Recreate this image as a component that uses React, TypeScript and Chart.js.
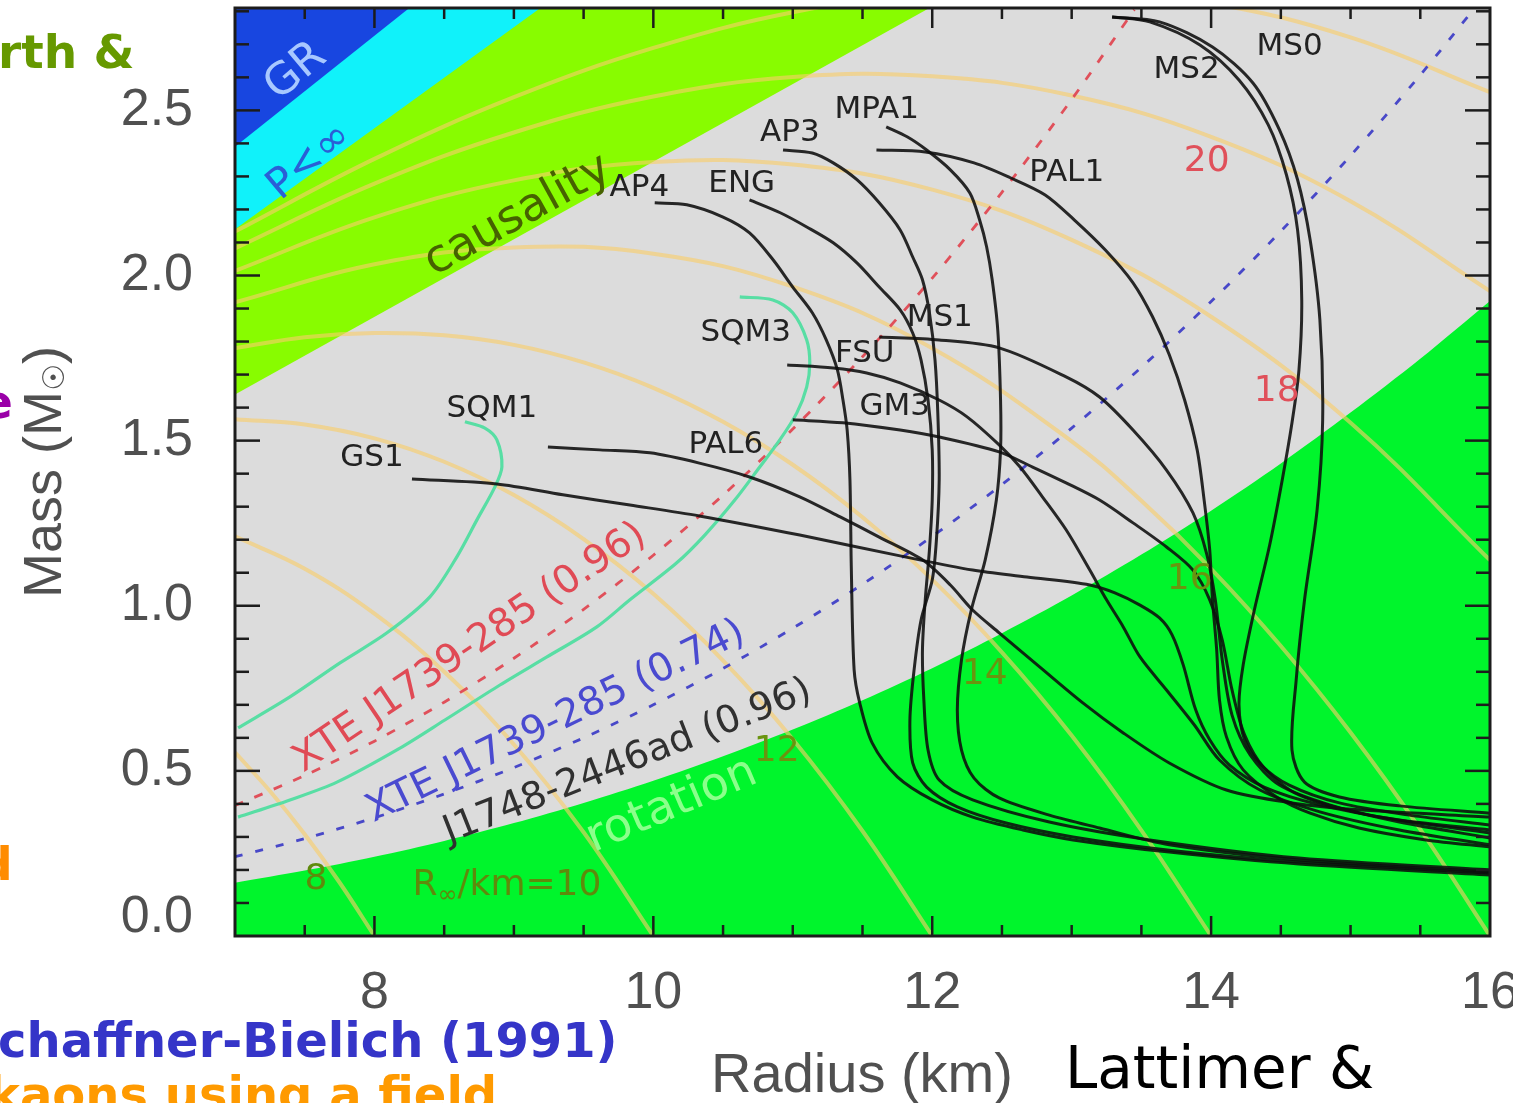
import { useEffect, useRef } from "react";
import { Chart, registerables } from "chart.js";

Chart.register(...registerables);

type Pt = [number, number];

// ---------- axes ----------
const xRange: Pt = [7, 16];
const yRange: Pt = [0, 2.81];
const xTickValues = [8, 10, 12, 14, 16];
const xTickLabels = ["8", "10", "12", "14", "16"];
const yTickValues = [0, 0.5, 1.0, 1.5, 2.0, 2.5];
const yTickLabels = ["0.0", "0.5", "1.0", "1.5", "2.0", "2.5"];

// ---------- excluded regions (R in km, M in solar masses) ----------
const grBoundary: Pt[] = [[7, 2.39], [8.25, 2.81]];
const pInfBoundary: Pt[] = [[7, 2.14], [9.19, 2.81]];
const causalityBoundary: Pt[] = [[7, 1.64], [11.98, 2.81]];
const rotationBoundary: Pt[] = [
  [7, 0.161], [7.5, 0.198], [8, 0.24], [8.5, 0.288], [9, 0.342], [9.5, 0.403],
  [10, 0.47], [10.5, 0.544], [11, 0.625], [11.5, 0.714], [12, 0.811], [12.5, 0.917],
  [13, 1.031], [13.5, 1.155], [14, 1.288], [14.5, 1.431], [15, 1.585], [15.5, 1.748], [16, 1.923],
];

// ---------- XTE J1739-285 spin limits ----------
const xte096: Pt[] = [
  [7, 0.395], [7.5, 0.486], [8, 0.59], [8.5, 0.708], [9, 0.841], [9.5, 0.989], [10, 1.153],
  [10.5, 1.335], [11, 1.535], [11.5, 1.754], [12, 1.992], [12.5, 2.252], [13, 2.533], [13.45, 2.805],
];
const xte074: Pt[] = [
  [7, 0.24], [7.5, 0.295], [8, 0.358], [8.5, 0.43], [9, 0.51], [9.5, 0.6], [10, 0.7], [10.5, 0.81],
  [11, 0.932], [11.5, 1.065], [12, 1.21], [12.5, 1.367], [13, 1.538], [13.5, 1.722], [14, 1.921],
  [14.5, 2.134], [15, 2.363], [15.5, 2.607], [15.89, 2.81],
];

// ---------- contours of constant R_inf ----------
const rInf8: Pt[] = [[7, 0.556], [7.25, 0.439], [7.5, 0.308], [7.75, 0.162], [8, 0]];
const rInf10: Pt[] = [[7, 1.21], [7.5, 1.112], [8, 0.976], [8.5, 0.8], [9, 0.58], [9.5, 0.314], [10, 0]];
const rInf12: Pt[] = [
  [7, 1.565], [7.5, 1.549], [8, 1.507], [8.5, 1.436], [9, 1.335], [9.5, 1.202], [10, 1.036],
  [10.5, 0.834], [11, 0.596], [11.5, 0.318], [12, 0],
];
const rInf14: Pt[] = [
  [7, 1.78], [7.5, 1.813], [8, 1.826], [8.5, 1.819], [9, 1.79], [9.5, 1.737], [10, 1.66], [10.5, 1.557],
  [11, 1.427], [11.5, 1.268], [12, 1.079], [12.5, 0.859], [13, 0.607], [13.5, 0.32], [14, 0],
];
const rInf16: Pt[] = [
  [7, 1.919], [8, 2.034], [9, 2.085], [10, 2.066], [11, 1.966], [12, 1.78], [13, 1.498],
  [13.5, 1.318], [14, 1.112], [14.5, 0.878], [15, 0.616], [15.5, 0.323], [16, 0],
];
const rInf18: Pt[] = [
  [7, 2.014], [8, 2.176], [9, 2.288], [10, 2.344], [11, 2.336], [12, 2.26], [13, 2.108],
  [14, 1.875], [15, 1.554], [16, 1.138],
];
const rInf20: Pt[] = [
  [7, 2.082], [8, 2.278], [9, 2.433], [10, 2.542], [11, 2.601], [12, 2.603], [13, 2.545],
  [14, 2.42], [15, 2.225], [16, 1.953],
];
const rInf22: Pt[] = [
  [7, 2.133], [8, 2.353], [9, 2.54], [10, 2.689], [11, 2.797], [12, 2.858], [13, 2.868],
  [14, 2.824], [15, 2.721], [16, 2.555],
];

// ---------- mass-radius curves ----------
const ms0: Pt[] = [
  [13.29, 2.783], [13.63, 2.768], [14.01, 2.692], [14.3, 2.583], [14.49, 2.441], [14.62, 2.29],
  [14.71, 2.108], [14.78, 1.866], [14.8, 1.563], [14.76, 1.29], [14.67, 1.018], [14.61, 0.775],
  [14.58, 0.563], [14.67, 0.466], [14.92, 0.421], [15.35, 0.394], [16.0, 0.372],
];
const ms2: Pt[] = [
  [13.29, 2.783], [13.56, 2.768], [13.92, 2.698], [14.2, 2.592], [14.41, 2.456], [14.54, 2.305],
  [14.62, 2.138], [14.65, 1.926], [14.63, 1.714], [14.58, 1.554], [14.51, 1.381], [14.42, 1.184],
  [14.31, 0.987], [14.23, 0.821], [14.2, 0.7], [14.24, 0.594], [14.36, 0.518], [14.56, 0.457],
  [14.92, 0.403], [15.42, 0.366], [16.0, 0.336],
];
const pal1: Pt[] = [
  [11.6, 2.38], [11.95, 2.374], [12.3, 2.341], [12.56, 2.296], [12.81, 2.244], [13.02, 2.168],
  [13.24, 2.078], [13.44, 1.978], [13.58, 1.875], [13.7, 1.76], [13.81, 1.623], [13.9, 1.472],
  [13.95, 1.32], [13.99, 1.169], [14.01, 1.018], [14.04, 0.866], [14.06, 0.715], [14.11, 0.603],
  [14.23, 0.503], [14.47, 0.421], [14.71, 0.372], [15.06, 0.327], [15.54, 0.291], [16.0, 0.27],
];
const ms1: Pt[] = [
  [11.62, 1.814], [12.05, 1.805], [12.48, 1.781], [12.96, 1.693], [13.2, 1.632], [13.44, 1.532],
  [13.68, 1.411], [13.87, 1.281], [13.97, 1.154], [14.03, 1.018], [14.08, 0.836], [14.15, 0.669],
  [14.28, 0.548], [14.49, 0.457], [14.85, 0.397], [15.35, 0.345], [16.0, 0.297],
];
const mpa1: Pt[] = [
  [11.67, 2.45], [11.82, 2.42], [11.96, 2.38], [12.13, 2.32], [12.27, 2.25], [12.34, 2.168],
  [12.39, 2.087], [12.43, 1.987], [12.47, 1.835], [12.49, 1.623], [12.49, 1.472], [12.46, 1.32],
  [12.38, 1.139], [12.28, 0.987], [12.21, 0.836], [12.18, 0.684], [12.21, 0.563], [12.3, 0.478],
  [12.48, 0.418], [12.84, 0.366], [13.2, 0.327], [13.7, 0.276], [14.63, 0.23], [16.0, 0.194],
];
const ap3: Pt[] = [
  [10.93, 2.38], [11.14, 2.371], [11.29, 2.341], [11.46, 2.29], [11.62, 2.22], [11.77, 2.138],
  [11.86, 2.056], [11.93, 1.987], [11.98, 1.887], [12.02, 1.744], [12.04, 1.584], [12.05, 1.381],
  [12.03, 1.199], [12.0, 1.078], [11.92, 0.957], [11.87, 0.806], [11.84, 0.654], [11.86, 0.524],
  [11.96, 0.451], [12.18, 0.391], [12.53, 0.342], [13.01, 0.3], [13.7, 0.26], [14.63, 0.224], [16.0, 0.191],
];
const eng: Pt[] = [
  [10.69, 2.229], [10.91, 2.19], [11.1, 2.147], [11.29, 2.099], [11.46, 2.038], [11.62, 1.965],
  [11.77, 1.896], [11.86, 1.826], [11.92, 1.744], [11.97, 1.623], [12.0, 1.472], [12.0, 1.32],
  [11.98, 1.169], [11.95, 1.018], [11.93, 0.866], [11.94, 0.715], [11.97, 0.563], [12.05, 0.472],
  [12.29, 0.412], [12.84, 0.345], [13.56, 0.291], [14.63, 0.236], [16.0, 0.2],
];
const ap4: Pt[] = [
  [10.01, 2.22], [10.24, 2.214], [10.5, 2.177], [10.69, 2.129], [10.86, 2.047], [11.0, 1.965],
  [11.14, 1.887], [11.24, 1.805], [11.32, 1.714], [11.36, 1.623], [11.39, 1.532], [11.41, 1.381],
  [11.42, 1.108], [11.44, 0.806], [11.48, 0.706], [11.57, 0.584], [11.75, 0.482], [12.0, 0.412],
  [12.29, 0.36], [12.65, 0.321], [13.01, 0.291], [13.7, 0.254], [14.63, 0.218], [16.0, 0.185],
];
const fsu: Pt[] = [
  [10.96, 1.729], [11.29, 1.72], [11.53, 1.705], [11.77, 1.675], [12.05, 1.623], [12.25, 1.572],
  [12.48, 1.487], [12.63, 1.42], [12.79, 1.33], [12.96, 1.23], [13.13, 1.108], [13.25, 1.018],
  [13.37, 0.936], [13.49, 0.845], [13.68, 0.745], [13.88, 0.639], [14.06, 0.533], [14.35, 0.442],
  [14.78, 0.376], [15.35, 0.321], [16.0, 0.276],
];
const gm3: Pt[] = [
  [11.0, 1.563], [11.36, 1.554], [11.77, 1.532], [12.05, 1.511], [12.48, 1.466], [12.72, 1.42],
  [12.96, 1.372], [13.2, 1.32], [13.44, 1.251], [13.68, 1.178], [13.87, 1.108], [13.99, 1.018],
  [14.08, 0.896], [14.15, 0.745], [14.24, 0.609], [14.38, 0.509], [14.63, 0.427], [15.14, 0.366], [16.0, 0.312],
];
const pal6: Pt[] = [
  [9.244, 1.481], [9.616, 1.472], [9.975, 1.463], [10.33, 1.432], [10.69, 1.39], [11.05, 1.33],
  [11.34, 1.269], [11.62, 1.208], [11.93, 1.139], [12.13, 1.063], [12.29, 0.987], [12.48, 0.918],
  [12.77, 0.815], [13.08, 0.706], [13.37, 0.615], [13.7, 0.524], [14.11, 0.442], [14.58, 0.403],
  [15.06, 0.382], [16.0, 0.36],
];
const gs1: Pt[] = [
  [8.269, 1.384], [8.878, 1.369], [9.351, 1.336], [9.832, 1.305], [10.33, 1.272], [11.05, 1.214],
  [11.77, 1.151], [12.29, 1.108], [12.68, 1.087], [13.13, 1.063], [13.31, 1.039], [13.49, 1.002],
  [13.63, 0.963], [13.72, 0.912], [13.8, 0.821], [13.89, 0.684], [13.99, 0.594], [14.13, 0.518],
  [14.38, 0.451], [14.78, 0.397], [15.35, 0.351], [16.0, 0.321],
];
const sqm1: Pt[] = [
  [8.649, 1.557], [8.792, 1.538], [8.878, 1.502], [8.914, 1.42], [8.864, 1.36], [8.735, 1.26],
  [8.591, 1.148], [8.398, 1.027], [8.09, 0.918], [7.753, 0.827], [7.394, 0.724], [7.022, 0.63],
];
const sqm3: Pt[] = [
  [10.62, 1.935], [10.857, 1.926], [11.0, 1.887], [11.1, 1.805], [11.122, 1.735], [11.1, 1.663],
  [11.029, 1.584], [10.907, 1.502], [10.763, 1.42], [10.584, 1.32], [10.369, 1.214], [10.168, 1.13],
  [9.832, 1.018], [9.595, 0.936], [9.237, 0.845], [8.9, 0.76], [8.505, 0.654], [8.183, 0.569],
  [7.731, 0.466], [7.394, 0.412], [7.022, 0.36],
];

// ---------- annotation layout ----------
const LABEL_FONT = "'DejaVu Sans', sans-serif";
const eosLabels: { text: string; r: number; m: number }[] = [
  { text: "AP4", r: 9.9, m: 2.265 },
  { text: "ENG", r: 10.634, m: 2.277 },
  { text: "AP3", r: 10.979, m: 2.432 },
  { text: "MPA1", r: 11.602, m: 2.501 },
  { text: "PAL1", r: 12.964, m: 2.311 },
  { text: "MS2", r: 13.824, m: 2.623 },
  { text: "MS0", r: 14.563, m: 2.692 },
  { text: "MS1", r: 12.054, m: 1.872 },
  { text: "SQM3", r: 10.663, m: 1.826 },
  { text: "FSU", r: 11.516, m: 1.763 },
  { text: "GM3", r: 11.731, m: 1.602 },
  { text: "PAL6", r: 10.52, m: 1.487 },
  { text: "SQM1", r: 8.842, m: 1.596 },
  { text: "GS1", r: 7.982, m: 1.448 },
];
const contourLabels: { text: string; r: number; m: number; color: string }[] = [
  { text: "20", r: 13.968, m: 2.344, color: "#e0505a" },
  { text: "18", r: 14.47, m: 1.647, color: "#e0505a" },
  { text: "16", r: 13.846, m: 1.078, color: "#6a9410" },
  { text: "14", r: 12.376, m: 0.79, color: "#6a9410" },
  { text: "12", r: 10.885, m: 0.557, color: "#6a9410" },
  { text: "8", r: 7.581, m: 0.17, color: "#5e8a0c" },
];
const slantedLabels: { text: string; r: number; m: number; angle: number; size: number; color: string }[] = [
  { text: "GR", r: 7.437, m: 2.617, angle: -40, size: 44, color: "#a8c8ff" },
  { text: "P<\u221e", r: 7.538, m: 2.344, angle: -40, size: 42, color: "#2a5fd6" },
  { text: "causality", r: 9.029, m: 2.18, angle: -29, size: 46, color: "#466200" },
  { text: "rotation", r: 10.133, m: 0.394, angle: -23, size: 46, color: "#8cff8c" },
  { text: "XTE J1739-285 (0.96)", r: 8.685, m: 0.872, angle: -34, size: 39, color: "#e04a55" },
  { text: "XTE J1739-285 (0.74)", r: 9.301, m: 0.648, angle: -26, size: 39, color: "#4a4ad0" },
  { text: "J1748-2446ad (0.96)", r: 9.817, m: 0.527, angle: -21.5, size: 38, color: "#303030" },
];

type Run = { t: string; font: string; color: string; dy?: number };

function drawRuns(
  ctx: CanvasRenderingContext2D, runs: Run[], x: number, y: number,
  angleDeg = 0, align: "left" | "center" | "right" = "center",
) {
  ctx.save();
  ctx.translate(x, y);
  ctx.rotate((angleDeg * Math.PI) / 180);
  ctx.textAlign = "left";
  ctx.textBaseline = "middle";
  const widths = runs.map((r) => {
    ctx.font = r.font;
    return ctx.measureText(r.t).width;
  });
  const total = widths.reduce((s, w) => s + w, 0);
  let cx = align === "center" ? -total / 2 : align === "right" ? -total : 0;
  runs.forEach((r, i) => {
    ctx.font = r.font;
    ctx.fillStyle = r.color;
    ctx.fillText(r.t, cx, r.dy ?? 0);
    cx += widths[i];
  });
  ctx.restore();
}

const decor = {
  id: "nsDecor",
  beforeDraw(chart: any) {
    const { ctx, chartArea: a } = chart;
    ctx.save();
    ctx.fillStyle = "#ffffff";
    ctx.fillRect(0, 0, chart.width, chart.height);
    ctx.fillStyle = "#dcdcdc";
    ctx.fillRect(a.left, a.top, a.right - a.left, a.bottom - a.top);
    ctx.restore();
  },
  afterDatasetsDraw(chart: any) {
    const { ctx, chartArea: a } = chart;
    const sx = chart.scales.x;
    const sy = chart.scales.y;
    ctx.save();
    ctx.beginPath();
    ctx.rect(a.left, a.top, a.right - a.left, a.bottom - a.top);
    ctx.clip();
    slantedLabels.forEach((l) => {
      drawRuns(ctx, [{ t: l.text, font: `${l.size}px ${LABEL_FONT}`, color: l.color }],
        sx.getPixelForValue(l.r), sy.getPixelForValue(l.m), l.angle);
    });
    eosLabels.forEach((l) => {
      drawRuns(ctx, [{ t: l.text, font: `31px ${LABEL_FONT}`, color: "#222222" }],
        sx.getPixelForValue(l.r), sy.getPixelForValue(l.m));
    });
    contourLabels.forEach((l) => {
      drawRuns(ctx, [{ t: l.text, font: `36px ${LABEL_FONT}`, color: l.color }],
        sx.getPixelForValue(l.r), sy.getPixelForValue(l.m));
    });
    drawRuns(ctx, [
      { t: "R", font: `36px ${LABEL_FONT}`, color: "#5e8a0c" },
      { t: "\u221e", font: `24px ${LABEL_FONT}`, color: "#5e8a0c", dy: 11 },
      { t: "/km=10", font: `36px ${LABEL_FONT}`, color: "#5e8a0c" },
    ], sx.getPixelForValue(8.95), sy.getPixelForValue(0.154));
    ctx.restore();
  },
  afterDraw(chart: any) {
    const { ctx, chartArea: a } = chart;
    const sx = chart.scales.x;
    const sy = chart.scales.y;
    ctx.save();
    ctx.strokeStyle = "#1c1c1c";
    ctx.lineWidth = 2.5;
    const seg = (x1: number, y1: number, x2: number, y2: number) => {
      ctx.beginPath();
      ctx.moveTo(x1, y1);
      ctx.lineTo(x2, y2);
      ctx.stroke();
    };
    // inward ticks: every 0.5 km on x, every 0.1 Msun on y
    for (let v = xRange[0] + 0.5; v < xRange[1]; v += 0.5) {
      const px = sx.getPixelForValue(v);
      const len = xTickValues.includes(v) ? 20 : 11;
      seg(px, a.bottom, px, a.bottom - len);
      seg(px, a.top, px, a.top + len);
    }
    for (let k = 1; k <= 28; k++) {
      const py = sy.getPixelForValue(k / 10);
      const len = k % 5 === 0 ? 25 : 14;
      seg(a.left, py, a.left + len, py);
      seg(a.right, py, a.right - len, py);
    }
    ctx.lineWidth = 3;
    ctx.strokeRect(a.left, a.top, a.right - a.left, a.bottom - a.top);

    // tick labels
    ctx.fillStyle = "#505050";
    ctx.font = "52px 'Liberation Sans', sans-serif";
    ctx.textBaseline = "middle";
    ctx.textAlign = "center";
    xTickValues.forEach((v, i) => ctx.fillText(xTickLabels[i], sx.getPixelForValue(v), a.bottom + 58));
    ctx.textAlign = "right";
    yTickValues.forEach((v, i) => {
      const py = Math.min(sy.getPixelForValue(v), a.bottom - 18);
      ctx.fillText(yTickLabels[i], a.left - 42, py);
    });

    // axis titles
    drawRuns(ctx, [{ t: "Radius (km)", font: "56px 'Liberation Sans', sans-serif", color: "#505050" }],
      862, 1077);
    drawRuns(ctx, [
      { t: "Mass (M", font: "54px 'Liberation Sans', sans-serif", color: "#505050" },
      { t: "\u2609", font: "30px 'DejaVu Sans', sans-serif", color: "#505050", dy: 10 },
      { t: ")", font: "54px 'Liberation Sans', sans-serif", color: "#505050" },
    ], 46, 472, -90);

    // surrounding slide text
    ctx.textAlign = "left";
    ctx.textBaseline = "alphabetic";
    ctx.font = "bold 47px 'DejaVu Sans', sans-serif";
    ctx.fillStyle = "#669900";
    ctx.fillText("rth &", -2, 68);
    ctx.fillStyle = "#9a00a8";
    ctx.fillText("e", -19, 418);
    ctx.fillStyle = "#ff8c00";
    ctx.fillText("d", -21, 880);
    ctx.font = "bold 48px 'DejaVu Sans', sans-serif";
    ctx.fillStyle = "#3535c8";
    ctx.fillText("chaffner-Bielich (1991)", -2, 1057);
    ctx.fillStyle = "#ff9a00";
    ctx.fillText("kaons using a field", -12, 1111);
    ctx.fillStyle = "#000000";
    ctx.font = "58px 'DejaVu Sans', sans-serif";
    ctx.fillText("Lattimer &", 1065, 1088);
    ctx.restore();
  },
};

const xy = (pts: Pt[]) => pts.map(([x, y]) => ({ x, y }));

const region = (pts: Pt[], color: string, fill: string, order: number, tension = 0) => ({
  data: xy(pts), borderWidth: 0, pointRadius: 0, backgroundColor: color, fill, order, tension,
});
const contour = (pts: Pt[]) => ({
  data: xy(pts), borderColor: "rgba(248,205,105,0.62)", borderWidth: 4, pointRadius: 0,
  fill: false, tension: 0.4, order: 20,
});
const spinLimit = (pts: Pt[], color: string, dash: number[]) => ({
  data: xy(pts), borderColor: color, borderWidth: 2.8, borderDash: dash, pointRadius: 0,
  fill: false, tension: 0.3, order: 10,
});
const eos = (pts: Pt[], color = "rgba(12,12,12,0.88)", width = 3) => ({
  data: xy(pts), borderColor: color, borderWidth: width, pointRadius: 0,
  fill: false, tension: 0.3, order: 0,
});

export default function App() {
  const canvasRef = useRef<HTMLCanvasElement>(null);

  useEffect(() => {
    if (!canvasRef.current) return;
    const teal = "#58dea4";
    const chart = new Chart(canvasRef.current, {
      type: "line",
      data: {
        datasets: [
          region(causalityBoundary, "#88fc00", "end", 33),
          region(pInfBoundary, "#10f2fa", "end", 32),
          region(grBoundary, "#1846e0", "end", 31),
          region(rotationBoundary, "#00f52c", "origin", 30, 0.3),
          contour(rInf8), contour(rInf10), contour(rInf12), contour(rInf14),
          contour(rInf16), contour(rInf18), contour(rInf20), contour(rInf22),
          spinLimit(xte096, "#e0505a", [9, 12]),
          spinLimit(xte074, "#4848c8", [8, 13]),
          eos(ms0), eos(ms2), eos(pal1), eos(ms1), eos(mpa1), eos(ap3), eos(eng),
          eos(ap4), eos(fsu), eos(gm3), eos(pal6), eos(gs1),
          eos(sqm1, teal, 3.2), eos(sqm3, teal, 3.2),
        ] as any,
      },
      options: {
        responsive: false,
        animation: false,
        events: [],
        layout: { padding: { left: 235, right: 23, top: 8, bottom: 167 } },
        plugins: { legend: { display: false }, tooltip: { enabled: false } },
        scales: {
          x: { type: "linear", min: xRange[0], max: xRange[1], display: false },
          y: { type: "linear", min: yRange[0], max: yRange[1], display: false },
        },
      },
      plugins: [decor],
    });
    return () => chart.destroy();
  }, []);

  return (
    <div style={{ position: "absolute", left: 0, top: 0, width: 1513, height: 1103 }}>
      <canvas ref={canvasRef} width={1513} height={1103} style={{ display: "block" }} />
    </div>
  );
}
